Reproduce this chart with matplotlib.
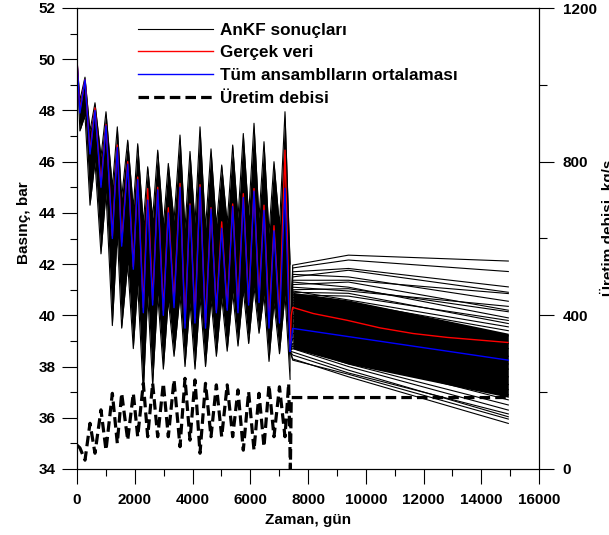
import matplotlib
matplotlib.use('Agg')
import matplotlib.pyplot as plt
from matplotlib.lines import Line2D
from matplotlib.ticker import MultipleLocator

plt.rcParams['font.family'] = ['Liberation Sans', 'DejaVu Sans']
plt.rcParams['font.weight'] = 'bold'
plt.rcParams['font.size'] = 11

# ---------------- history period (peaks / troughs), days ----------------
hist_t = [0, 100, 277, 450, 623, 830, 1004, 1224, 1396, 1547, 1756, 1950, 2102, 2297,
          2448, 2620, 2795, 2990, 3162, 3360, 3567, 3740, 3913, 4086, 4260, 4450, 4641,
          4826, 5011, 5201, 5392, 5575, 5759, 5944, 6130, 6303, 6476, 6649, 6822, 7012,
          7203, 7380]
# ensemble mean (Tüm ansamblların ortalaması), bar
hist_mean = [50.0, 47.9, 49.2, 46.3, 48.0, 45.0, 47.4, 43.0, 46.55, 42.7, 45.9, 41.8, 45.3, 40.1,
             44.5, 40.4, 44.9, 40.0, 44.0, 40.3, 45.0, 39.5, 44.3, 39.7, 45.0, 39.5, 44.15,
             40.1, 43.4, 40.2, 44.25, 40.1, 44.6, 40.4, 44.85, 40.5, 44.1, 39.5, 43.3, 39.7,
             44.96, 38.6]
# observed data (Gerçek veri), bar
hist_obs = [50.0, 48.0, 49.2, 46.4, 48.1, 45.1, 47.45, 43.1, 46.65, 42.85, 46.0, 41.9, 45.4, 40.3,
            44.95, 40.6, 45.0, 40.2, 44.2, 40.5, 45.15, 39.7, 44.35, 39.9, 45.1, 39.7, 44.2,
            40.2, 43.65, 40.3, 44.35, 40.3, 44.75, 40.5, 44.95, 40.7, 44.3, 39.8, 43.5, 39.9,
            46.45, 38.9]
# upper envelope of the AnKF ensemble (spike tops at peaks, gap bottoms at troughs)
hist_ens_upper = [50.0, 48.4, 49.3, 47.2, 48.3, 46.2, 47.95, 45.0, 47.36, 44.6, 46.84, 44.2, 46.7, 43.6,
                  45.8, 43.8, 46.45, 43.5, 45.93, 43.7, 47.04, 43.4, 46.4, 43.6, 47.36, 43.4, 46.5,
                  43.5, 45.87, 43.6, 46.65, 43.8, 47.1, 43.9, 47.5, 43.8, 46.78, 43.2, 46.0, 43.5,
                  47.95, 42.0]
# lower envelope of the AnKF ensemble (gap tops at peaks, spike bottoms at troughs)
hist_ens_lower = [49.8, 47.2, 47.8, 44.3, 46.0, 42.4, 44.8, 39.6, 43.2, 39.5, 42.0, 38.7, 41.2, 37.0,
                  40.8, 37.3, 40.8, 37.9, 40.6, 38.4, 40.8, 38.0, 40.5, 37.9, 40.7, 38.0, 40.6,
                  38.4, 40.7, 38.6, 40.9, 38.8, 41.0, 38.9, 41.1, 39.3, 40.8, 38.2, 40.5, 38.5,
                  40.8, 37.5]

# ---------------- forecast period ----------------
fc_t = [7380, 7470, 9400, 14937]
fc_origin = 38.6
# individual AnKF members: value at 7470, 9400, 14937 days
fc_members = [
    (41.96, 42.35, 42.12), (41.85, 42.16, 41.71), (41.70, 41.83, 41.11), (41.50, 41.76, 40.90),
    (41.37, 41.37, 40.85), (41.60, 41.50, 40.55), (41.20, 41.30, 40.20), (41.00, 41.04, 40.14),
    (41.10, 40.95, 40.35), (40.90, 40.86, 39.68), (41.30, 41.10, 39.90), (40.80, 40.75, 39.80),
    (40.95, 40.60, 39.55), (40.70, 40.50, 39.40), (40.60, 40.30, 39.20), (40.50, 40.10, 38.90),
    (40.40, 39.90, 38.70), (40.20, 39.70, 38.40), (40.00, 39.50, 38.10), (39.90, 39.30, 37.90),
    (39.70, 39.10, 37.60), (39.50, 38.90, 37.30), (39.30, 38.70, 37.10), (39.10, 38.50, 36.90),
    (38.90, 38.30, 36.70), (38.80, 38.10, 36.50), (38.70, 38.00, 36.30), (38.57, 37.86, 36.04),
    (38.45, 37.75, 36.15), (38.30, 37.60, 35.78), (38.25, 37.70, 35.95),
]
# dense core of the ensemble (many overlapping members)
fc_core_t = [7470, 9400, 14937]
fc_core_hi = [40.9, 40.6, 39.3]
fc_core_lo = [38.7, 38.1, 36.8]
# observed and mean in forecast
fc_obs_t = [7380, 7420, 7470, 8184, 9340, 10494, 11640, 12803, 14925]
fc_obs = [38.9, 40.0, 40.31, 40.07, 39.81, 39.51, 39.29, 39.14, 38.94]
fc_mean_t = [7380, 7470, 14937]
fc_mean = [38.6, 39.49, 38.25]

# ---------------- production rate (kg/s) ----------------
rate_t = [0, 100, 277, 450, 623, 830, 1004, 1224, 1396, 1547, 1756, 1950, 2102, 2297,
          2448, 2620, 2795, 2990, 3162, 3360, 3567, 3740, 3913, 4086, 4260, 4450, 4641,
          4826, 5011, 5201, 5392, 5575, 5759, 5944, 6130, 6303, 6476, 6649, 6822, 7012,
          7203, 7330, 7390, 7420, 14937]
rate = [62, 55, 23, 119, 41, 154, 49, 197, 67, 197, 75, 197, 84, 223,
        84, 223, 84, 223, 84, 232, 58, 236, 75, 232, 41, 223, 84,
        219, 84, 219, 84, 206, 49, 201, 49, 197, 58, 219, 84, 214,
        84, 223, 0, 186, 186]

legend_labels = ['AnKF sonuçları', 'Gerçek veri', 'Tüm ansamblların ortalaması', 'Üretim debisi']

fig = plt.figure(figsize=(6.09, 5.35), dpi=100)
ax = fig.add_axes([77 / 609, 66 / 535, 462 / 609, 461 / 535])

# history ensemble
ax.fill_between(hist_t, hist_ens_lower, hist_ens_upper, color='black', lw=0, zorder=1)
ax.plot(hist_t, hist_ens_upper, color='black', lw=0.8, zorder=1)
ax.plot(hist_t, hist_ens_lower, color='black', lw=0.8, zorder=1)
# forecast ensemble
ax.fill_between(fc_core_t, fc_core_lo, fc_core_hi, color='black', lw=0, zorder=1)
for m in fc_members:
    ax.plot(fc_t, [fc_origin] + list(m), color='black', lw=0.8, zorder=1)

ax.plot(hist_t, hist_obs, color='#ff0000', lw=1.0, zorder=3)
ax.plot(fc_obs_t, fc_obs, color='#ff0000', lw=1.0, zorder=3)
ax.plot(hist_t, hist_mean, color='#0000ff', lw=1.0, zorder=4)
ax.plot(fc_mean_t, fc_mean, color='#0000ff', lw=1.0, zorder=4)

ax.set_xlim(0, 16000)
ax.set_ylim(34, 52)
ax.xaxis.set_major_locator(MultipleLocator(2000))
ax.xaxis.set_minor_locator(MultipleLocator(1000))
ax.yaxis.set_major_locator(MultipleLocator(2))
ax.yaxis.set_minor_locator(MultipleLocator(1))
ax.tick_params(which='major', direction='out', length=10.5, width=0.8, pad=5)
ax.tick_params(which='minor', direction='out', length=5, width=0.8)
ax.tick_params(axis='x', which='major', pad=7)
ax.set_xlabel('Zaman, gün', fontweight='bold', labelpad=4)
ax.set_ylabel('Basınç, bar', fontweight='bold')
ax.yaxis.set_label_coords(-0.10, 0.535)

ax2 = ax.twinx()
ax2.plot(rate_t, rate, color='black', lw=2.3, dashes=(3.3, 1.6), zorder=5)
ax2.set_ylim(0, 1200)
ax2.yaxis.set_major_locator(MultipleLocator(400))
ax2.yaxis.set_minor_locator(MultipleLocator(200))
ax2.tick_params(which='major', direction='out', length=11, width=0.8, pad=6)
ax2.tick_params(which='minor', direction='out', length=5.5, width=0.8)
ax2.set_ylabel('Üretim debisi, kg/s', fontweight='bold', rotation=90)
ax2.yaxis.set_label_coords(1.132, 0.523)

for a in (ax, ax2):
    for s in a.spines.values():
        s.set_linewidth(0.8)

handles = [Line2D([], [], color='black', lw=0.8),
           Line2D([], [], color='#ff0000', lw=1.0),
           Line2D([], [], color='#0000ff', lw=1.0),
           Line2D([], [], color='black', lw=2.3, dashes=(3.3, 1.6))]
ax2.legend(handles, legend_labels, loc='upper left', bbox_to_anchor=(0.132, 0.968),
           frameon=False, borderpad=0, borderaxespad=0, handlelength=4.4,
           handletextpad=0.42, labelspacing=0.45, prop={'weight': 'bold', 'size': 12.3})

fig.savefig('out.png', dpi=100)
